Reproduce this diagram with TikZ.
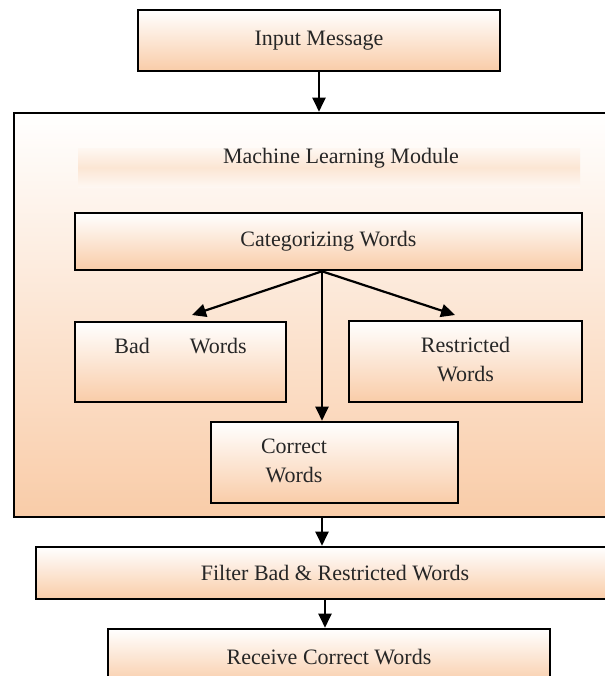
\documentclass[tikz,border=0pt]{standalone}
\usepackage{fontspec}
\setmainfont{Liberation Serif}
\usetikzlibrary{arrows.meta}
\definecolor{peach}{RGB}{249,204,168}

\begin{document}
\begin{tikzpicture}[x=1pt,y=1pt,
  font=\fontsize{11}{14.5}\selectfont,text=black!85,
  box/.style={draw=black,line width=1.3pt,top color=white,bottom color=peach,inner sep=0pt},
  arr/.style={line width=1.1pt,-{Triangle[length=7pt,width=6.5pt]}}]
\useasboundingbox (0,0) rectangle (302.5,-338);
\clip (0,0) rectangle (302.5,-338);
% input
\node[box,minimum width=181pt,minimum height=30.5pt] (input) at (159.5,-20.25) {Input Message};
% machine learning module
\node[box,minimum width=305pt,minimum height=202pt] (outer) at (159.5,-157.5) {};
\node[draw=none,top color=peach!15,bottom color=peach!15,middle color=peach!50,minimum width=251pt,minimum height=19.5pt] (band) at (164.5,-83.75) {};
\node (mlm) at (170.5,-79) {Machine Learning Module};
\node[box,minimum width=253.5pt,minimum height=28.5pt] (cat) at (164.25,-120.75) {Categorizing Words};
\node[box,minimum width=105.5pt,minimum height=40pt] (bad) at (90.25,-181) {\begin{tabular}{@{}c@{}}Bad\hspace{20pt}Words\\ \mbox{}\end{tabular}};
\node[box,minimum width=116.5pt,minimum height=40.5pt] (restr) at (232.75,-180.75) {\begin{tabular}{@{}c@{}}Restricted\\Words\end{tabular}};
\node[box,minimum width=123.5pt,minimum height=40.5pt] (corr) at (167.25,-231.25) {\begin{tabular}{@{}c@{}}Correct\\Words\end{tabular}\rule{40.5pt}{0pt}};
% output
\node[box,minimum width=299pt,minimum height=26pt] (filter) at (167.5,-286.5) {Filter Bad \& Restricted Words};
\node[box,minimum width=221pt,minimum height=28pt] (recv) at (164.5,-328.5) {Receive Correct Words};
% arrows
\coordinate (fork) at ([xshift=-3.25pt]cat.south);
\coordinate (badin) at (96,-157.5);
\coordinate (resin) at (227.5,-157.5);
\draw[arr] (input.south) -- (input.south |- outer.north);
\draw[arr] (fork) -- (badin);
\draw[arr] (fork) -- (resin);
\draw[arr] (fork) -- (fork |- corr.north);
\draw[arr] (fork |- outer.south) -- (fork |- filter.north);
\draw[arr] ([xshift=-5pt]filter.south) -- ([xshift=-5pt]filter.south |- recv.north);
\end{tikzpicture}
\end{document}
